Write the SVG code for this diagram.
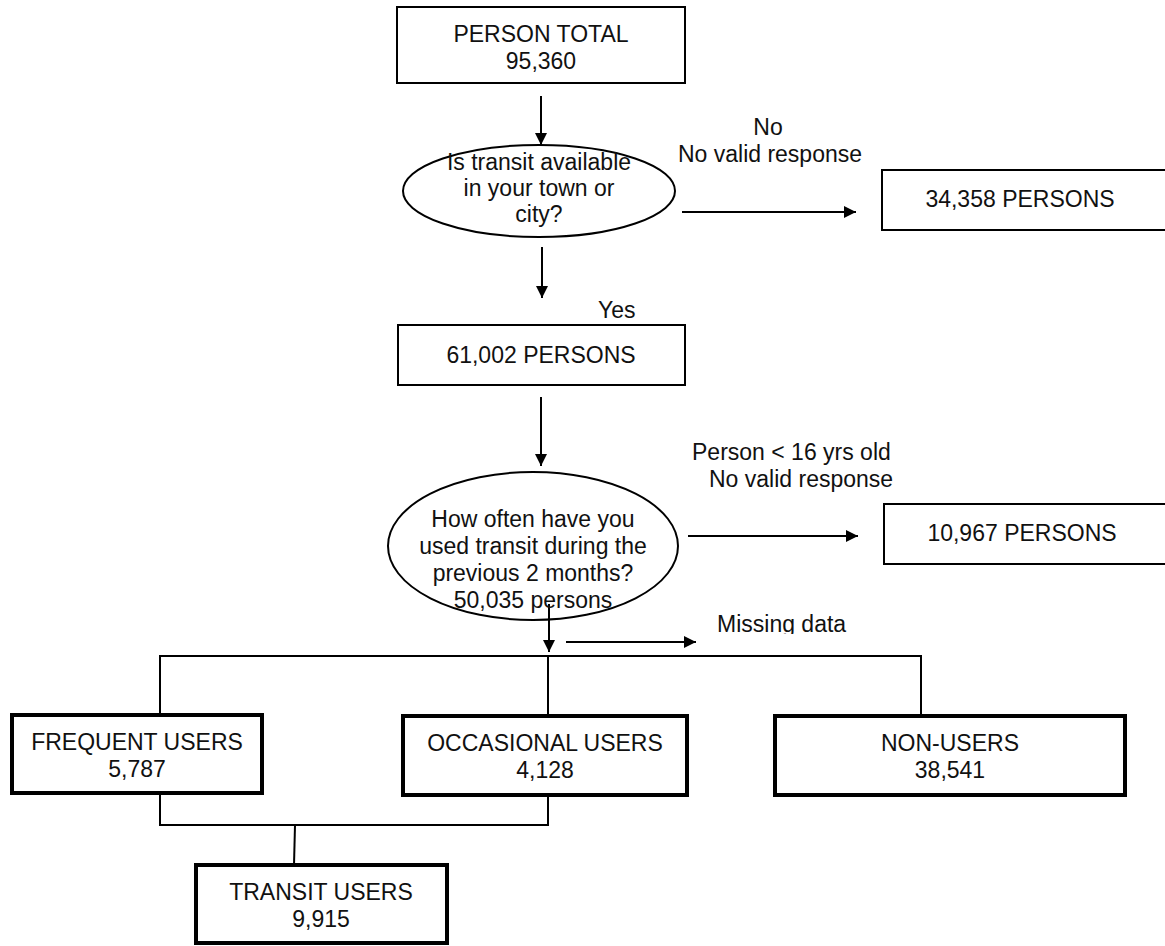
<svg xmlns="http://www.w3.org/2000/svg" width="1165" height="946" viewBox="0 0 1165 946">
<style>
text{font-family:"Liberation Sans",Arial,sans-serif;font-size:23px;fill:#111;}
.c{text-anchor:middle;}
.box{fill:#fff;stroke:#000;stroke-width:2;}
.tbox{fill:#fff;stroke:#000;stroke-width:4;}
.ln{fill:none;stroke:#000;stroke-width:2;}
</style>
<defs>
<marker id="ahb" viewBox="0 0 10 10" refX="10" refY="5" markerWidth="12" markerHeight="12" markerUnits="userSpaceOnUse" orient="auto">
<path d="M0,0 L10,5 L0,10 z" fill="#000"/>
</marker>
<clipPath id="mclip"><rect x="700" y="600" width="200" height="34"/></clipPath>
</defs>
<rect width="1165" height="946" fill="#fff"/>

<g id="connectors">
<line class="ln" x1="541" y1="96" x2="541" y2="145" marker-end="url(#ahb)"/>
<line class="ln" x1="682" y1="212" x2="856" y2="212" marker-end="url(#ahb)"/>
<line class="ln" x1="542" y1="247" x2="542" y2="298" marker-end="url(#ahb)"/>
<line class="ln" x1="541" y1="397" x2="541" y2="466" marker-end="url(#ahb)"/>
<line class="ln" x1="688" y1="536" x2="858" y2="536" marker-end="url(#ahb)"/>
<line class="ln" x1="549" y1="604" x2="549" y2="652" marker-end="url(#ahb)"/>
<line class="ln" x1="566" y1="642" x2="696" y2="642" marker-end="url(#ahb)"/>
<polyline class="ln" points="160,715 160,656 921,656 921,716"/>
<line class="ln" x1="548" y1="656" x2="548" y2="716"/>
<polyline class="ln" points="160,793 160,825 548,825 548,795"/>
<line class="ln" x1="295" y1="825" x2="294" y2="865"/>
<text x="768" y="135" class="c">No</text>
<text x="770" y="162" class="c">No valid response</text>
<text x="598" y="318">Yes</text>
<text x="692" y="460">Person &lt; 16 yrs old</text>
<text x="709" y="487">No valid response</text>
<text x="717" y="632" clip-path="url(#mclip)">Missing data</text>
</g>

<g id="person-total">
<rect class="box" x="397" y="7" width="288" height="76"/>
<text x="541" y="42" class="c">PERSON TOTAL</text>
<text x="541" y="69" class="c">95,360</text>
</g>

<g id="q-transit-available">
<ellipse class="ln" cx="539" cy="191" rx="136" ry="46"/>
<text x="539" y="170" class="c">Is transit available</text>
<text x="539" y="196" class="c">in your town or</text>
<text x="539" y="222" class="c">city?</text>
</g>

<g id="no-transit">
<rect class="box" x="882" y="170" width="300" height="60"/>
<text x="1020" y="207" class="c">34,358 PERSONS</text>
</g>

<g id="yes-transit">
<rect class="box" x="398" y="325" width="287" height="60"/>
<text x="541" y="363" class="c">61,002 PERSONS</text>
</g>

<g id="q-how-often">
<ellipse class="ln" cx="533" cy="546" rx="145" ry="74"/>
<text x="533" y="527" class="c">How often have you</text>
<text x="533" y="554" class="c">used transit during the</text>
<text x="533" y="581" class="c">previous 2 months?</text>
<text x="533" y="608" class="c">50,035 persons</text>
</g>

<g id="excluded">
<rect class="box" x="884" y="504" width="300" height="60"/>
<text x="1022" y="541" class="c">10,967 PERSONS</text>
</g>

<g id="frequent-users">
<rect class="tbox" x="12" y="715" width="250" height="78"/>
<text x="137" y="750" class="c">FREQUENT USERS</text>
<text x="137" y="777" class="c">5,787</text>
</g>

<g id="occasional-users">
<rect class="tbox" x="403" y="716" width="284" height="79"/>
<text x="545" y="751" class="c">OCCASIONAL USERS</text>
<text x="545" y="778" class="c">4,128</text>
</g>

<g id="non-users">
<rect class="tbox" x="775" y="716" width="350" height="79"/>
<text x="950" y="751" class="c">NON-USERS</text>
<text x="950" y="778" class="c">38,541</text>
</g>

<g id="transit-users">
<rect class="tbox" x="196" y="865" width="251" height="78"/>
<text x="321" y="900" class="c">TRANSIT USERS</text>
<text x="321" y="927" class="c">9,915</text>
</g>
</svg>
